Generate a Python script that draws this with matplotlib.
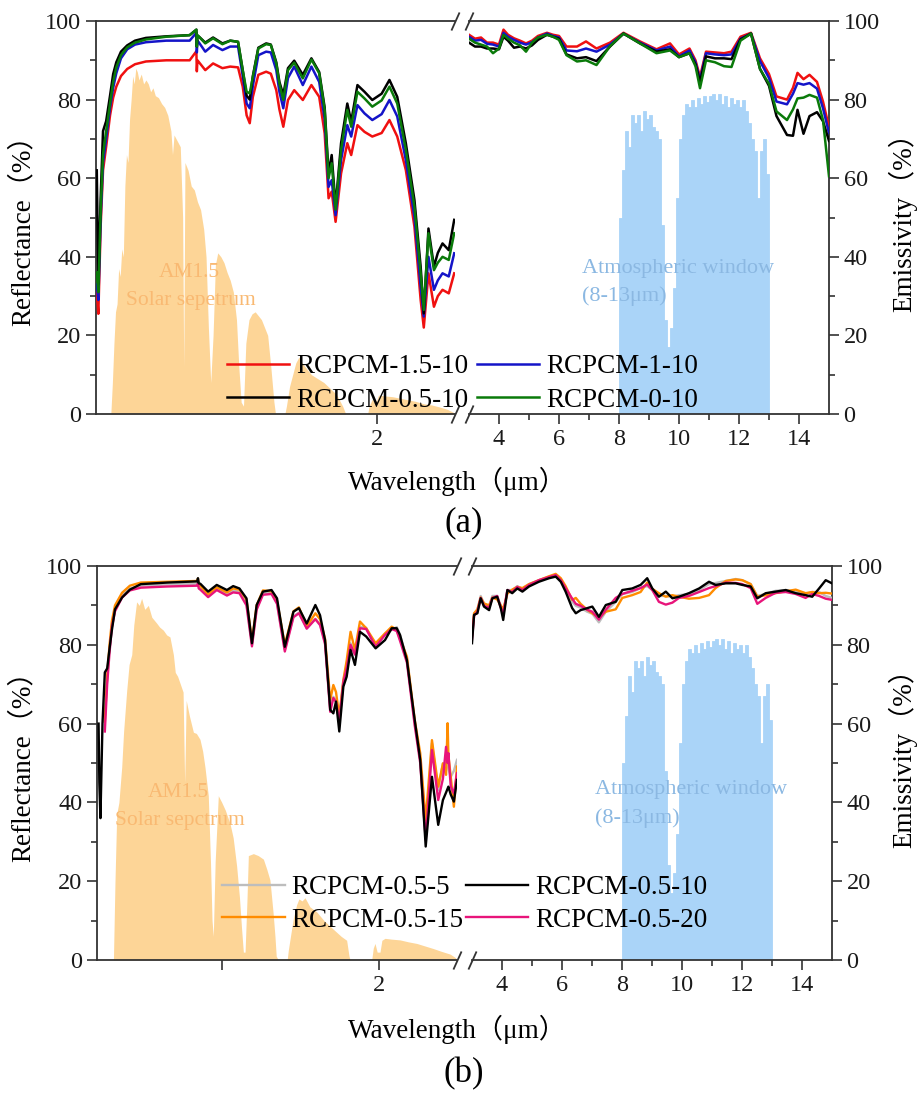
import numpy as np
import matplotlib
matplotlib.use("Agg")
import matplotlib.pyplot as plt
from matplotlib.ticker import MultipleLocator, FixedLocator
from matplotlib.lines import Line2D

plt.rcParams['font.family'] = ['Liberation Serif', 'Noto Sans CJK SC']
plt.rcParams['axes.unicode_minus'] = False

# ---------------- panel (a): 0.2-2.5 um segment ----------------
wl_a_sw = [0.205, 0.215, 0.23, 0.245, 0.265, 0.29, 0.31, 0.33, 0.36, 0.40,
           0.45, 0.52, 0.65, 0.80, 0.843, 0.846, 0.85, 0.86, 0.90, 0.95,
           1.01, 1.06, 1.11, 1.14, 1.165, 1.185, 1.205, 1.24, 1.29, 1.32,
           1.355, 1.375, 1.40, 1.43, 1.47, 1.525, 1.58, 1.63, 1.665, 1.69,
           1.71, 1.735, 1.77, 1.81, 1.835, 1.875, 1.92, 1.97, 2.03, 2.08,
           2.13, 2.185, 2.24, 2.28, 2.30, 2.33, 2.365, 2.39, 2.42, 2.46, 2.495]
a_sw_15 = [31, 25.5, 48, 62, 68, 76, 80.5, 83.3, 86, 87.8,
           89, 89.7, 90, 90, 92.3, 87.2, 90, 89.5, 87.5, 89.2,
           88, 88.4, 88.2, 83.3, 76, 74, 80.7, 86.3, 87.1, 86.6,
           82.4, 77.5, 73.1, 79.9, 82.4, 79.9, 83.7, 80.7, 71.4, 54.9,
           56.6, 48.9, 61.2, 68.9, 65.9, 73.5, 71.8, 70.6, 71.5, 74.8,
           70.6, 62.1, 47.7, 29, 22, 35.8, 27.3, 30, 31.6, 30.7, 35.8]
a_sw_1 = [33, 29, 50, 64, 70, 78, 83, 86.7, 90.5, 92.8,
          94, 94.6, 95, 95, 97, 92, 95, 94.5, 92.2, 93.9,
          92.6, 93.5, 93.5, 86, 79, 77.8, 83.5, 91.3, 92.2, 92,
          87.5, 82, 77.8, 85.5, 88.4, 83.7, 88.4, 84.5, 75, 57.8,
          59.5, 50.6, 64.6, 73.5, 70.6, 78.6, 76.5, 74.8, 76.3, 79.9,
          75.7, 64.6, 50.2, 32.4, 24.8, 40, 31.6, 34, 35.8, 35, 40.9]
a_sw_05 = [62, 33, 55, 72, 74.5, 81, 86.5, 89.5, 92.2, 93.8,
           95, 95.7, 96.1, 96.4, 97.8, 93.5, 96.3, 96, 94.5, 95.8,
           94.3, 95, 94.7, 87.5, 81, 80, 86, 93.2, 94.3, 94,
           89.5, 84.5, 81.2, 88, 89.9, 86.3, 90.5, 87, 78, 61.2,
           65.9, 52.8, 68.9, 79, 74.4, 83.7, 82, 79.9, 81.5, 85,
           80.7, 68.9, 54.5, 37.5, 25.6, 47.2, 37.5, 41, 43.4, 41.7, 49.4]
a_sw_0 = [36, 31, 52, 66, 72, 79, 84.5, 88.2, 91.3, 93.3,
          94.5, 95.3, 96, 96.4, 97.8, 93.5, 96.4, 96, 94.3, 95.6,
          94.1, 95, 94.7, 87.5, 82, 81.6, 85.8, 93, 94.1, 93.9,
          89.2, 84, 79.9, 87.5, 89.4, 85.4, 90.2, 86.7, 77.4, 60,
          63.8, 52, 67.2, 77.4, 73.1, 82, 80.3, 78.2, 79.8, 83.3,
          79, 67.2, 52.8, 35.8, 26.5, 46, 36.6, 38.5, 40, 39.2, 46]

# ---------------- panel (a): 3-15 um segment ----------------
wl_a_lw = [3.0, 3.2, 3.4, 3.6, 3.8, 4.0, 4.15, 4.3, 4.5, 4.7,
           4.9, 5.1, 5.3, 5.6, 5.8, 6.0, 6.25, 6.6, 6.9, 7.25,
           7.7, 8.15, 8.7, 9.25, 9.7, 10.0, 10.35, 10.55, 10.7, 10.9,
           11.2, 11.5, 11.75, 12.05, 12.4, 12.7, 13.0, 13.25, 13.6, 13.8,
           13.95, 14.15, 14.35, 14.6, 14.8, 15.0]
a_lw_15 = [96.5, 95.5, 95.8, 94.5, 94.5, 94.0, 97.8, 96.5, 95.6, 95.0,
           94.3, 95.0, 96.2, 97.0, 96.5, 96.2, 93.5, 93.5, 94.8, 93.0,
           94.5, 97.0, 94.8, 92.8, 94.3, 91.5, 93.0, 90.0, 85.8, 92.2,
           92.0, 91.8, 92.2, 96.0, 97.0, 90.5, 86.5, 80.8, 80.0, 83.0,
           86.8, 85.2, 86.3, 84.5, 79.5, 73.0]
a_lw_1 = [96.0, 95.0, 95.2, 94.2, 94.0, 93.5, 97.0, 96.0, 95.2, 94.5,
          94.0, 94.6, 95.8, 96.8, 96.2, 95.8, 92.5, 92.3, 93.0, 92.2,
          94.0, 96.8, 94.5, 92.5, 93.5, 91.0, 92.5, 89.5, 85.0, 91.8,
          91.5, 91.3, 91.5, 95.5, 96.8, 89.8, 85.5, 79.5, 78.8, 81.5,
          84.2, 83.8, 84.2, 82.8, 77.8, 71.5]
a_lw_05 = [94.5, 93.5, 93.5, 93.0, 93.0, 92.8, 96.0, 95.0, 93.2, 93.5,
           93.0, 93.8, 95.2, 96.5, 96.0, 95.5, 91.5, 90.5, 90.8, 89.8,
           93.5, 96.8, 94.3, 92.2, 92.8, 90.8, 91.8, 89.0, 84.5, 91.0,
           90.5, 90.5, 90.3, 95.3, 96.8, 87.8, 83.5, 75.8, 71.0, 70.8,
           77.4, 71.3, 75.8, 76.8, 74.5, 69.5]
a_lw_0 = [95.5, 94.5, 94.0, 93.5, 91.8, 93.0, 96.5, 95.5, 94.5, 93.8,
          92.2, 94.5, 95.8, 96.5, 96.0, 95.2, 91.3, 89.7, 90.0, 88.8,
          93.6, 96.8, 94.3, 91.8, 92.5, 90.8, 91.8, 88.5, 82.9, 90.0,
          89.5, 88.5, 88.3, 95.0, 96.8, 87.8, 84.0, 77.0, 74.8, 77.5,
          80.3, 80.5, 81.2, 80.5, 74.8, 60.5]

# ---------------- panel (b): 0.2-2.5 um segment ----------------
nan = float('nan')
wl_b_sw = [0.21, 0.215, 0.222, 0.235, 0.25, 0.265, 0.28, 0.295, 0.315, 0.36,
           0.41, 0.48, 0.65, 0.84, 0.845, 0.85, 0.86, 0.91, 0.965, 1.03,
           1.07, 1.11, 1.155, 1.19, 1.22, 1.26, 1.315, 1.35, 1.40, 1.455,
           1.49, 1.54, 1.595, 1.625, 1.657, 1.69, 1.71, 1.727, 1.748, 1.774,
           1.795, 1.82, 1.848, 1.88, 1.92, 1.98, 2.04, 2.083, 2.115, 2.136,
           2.18, 2.23, 2.265, 2.30, 2.34, 2.38, 2.41, 2.43, 2.44, 2.445,
           2.46, 2.48, 2.50]
b_sw_5 = [nan, nan, nan, nan, 62, 72, 79, 85, 89, 92.5,
          94.3, 95, 95.3, 95.5, 96.2, 94.8, 94.5, 92.5, 94.2, 92.8,
          93.7, 93.5, 90.5, 80, 89.2, 93.1, 93.2, 90.7, 78.8, 87.2,
          88.2, 84.2, 86.6, 85.2, 80.6, 64, 66.8, 66, 60.9, 71,
          74.5, 80.4, 78, 84.6, 84.3, 79.5, 82.8, 83.8, 84.5, 82.5,
          76.5, 60, 51, 32.1, 55, 43.1, 49.9, 49.9, 49.9, 48.5,
          46.5, 48, 50.8]
b_sw_10 = [60, 45, 36, 60, 73, 74, 79, 83.7, 89, 92,
           94, 95.4, 95.8, 96.1, 96.9, 95.6, 95.5, 93.5, 95.2, 93.9,
           94.9, 94.3, 91.8, 80.4, 90.1, 93.5, 93.9, 91.8, 79.5, 88.4,
           89.3, 85.4, 90.1, 87.5, 81.2, 63.5, 62.6, 65.6, 58, 69.4,
           71.9, 78.7, 74.9, 83.3, 82.1, 79.1, 81.2, 84.2, 84.2, 82.5,
           76.1, 60.9, 50.8, 28.8, 46.5, 34.3, 40.6, 42.5, 43.5, 44,
           42, 40.2, 45.7]
b_sw_15 = [nan, nan, nan, nan, 60.5, 72, 80, 86, 90, 93.2,
           95, 95.8, 96, 96.2, 96.8, 95.2, 95, 92.8, 94.6, 93.3,
           94.3, 94, 91.5, 81, 90, 93.8, 93.6, 91.2, 80, 88.5,
           89.5, 84.6, 88, 86.5, 81.5, 66, 69.8, 68, 61.8, 71.1,
           76, 83.3, 78.7, 85.9, 84.2, 80.4, 82.9, 84.6, 83.8, 81.5,
           77, 60.9, 52.5, 35.5, 55.8, 44, 49.9, 47, 60.1, 52,
           46.5, 38.9, 49.1]
b_sw_20 = [nan, nan, nan, nan, 58, 70, 78, 84.5, 88.5, 92,
           93.8, 94.5, 94.8, 95, 95.6, 94.3, 94, 92.1, 93.9, 92.5,
           93.3, 93.1, 90, 79.6, 88.9, 92.7, 92.9, 90.4, 78.3, 87,
           88, 84.1, 86.5, 85, 80.2, 63, 66.5, 65.5, 60.5, 70.5,
           74, 80, 77.5, 84.2, 84, 79.5, 82.5, 84, 83.5, 81,
           75.5, 59.5, 50, 30.5, 53.3, 40.6, 46, 54.1, 50, 52.5,
           44, 42.3, 47.4]

# ---------------- panel (b): 3-15 um segment ----------------
wl_b_lw = [3.0, 3.07, 3.18, 3.29, 3.4, 3.57, 3.68, 3.84, 3.96, 4.04,
           4.18, 4.34, 4.51, 4.68, 4.9, 5.23, 5.57, 5.79, 5.96, 6.12,
           6.34, 6.46, 6.62, 6.84, 7.01, 7.23, 7.46, 7.79, 8.01, 8.34,
           8.62, 8.84, 9.01, 9.23, 9.46, 9.68, 9.9, 10.23, 10.57, 10.9,
           11.12, 11.46, 11.79, 12.01, 12.29, 12.51, 12.79, 13.12, 13.46, 13.79,
           14.12, 14.34, 14.57, 14.79, 15.0]
b_lw_5 = [82, 87.9, 88.9, 92.4, 90.4, 89.9, 92.4, 92.4, 89.9, 87.4,
          93.9, 93.9, 94.9, 94.2, 95.4, 96.4, 97.3, 97.6, 96.6, 94.4,
          90.9, 89.9, 89.4, 88.4, 87.9, 85.7, 88.4, 90.9, 92.9, 93.4,
          94.4, 94.9, 93.9, 92.4, 92.4, 92.2, 92.6, 92.9, 93.9, 95.4,
          95.7, 96.2, 96.7, 96.4, 95.4, 92.4, 92.9, 93.7, 93.9, 93.4,
          92.9, 93.4, 93.4, 92.4, 91.9]
b_lw_10 = [80.4, 87.6, 88, 91.8, 89.7, 88.8, 91.8, 92.2, 89.3, 86.3,
           93.9, 93.1, 94.3, 93.5, 94.8, 96.0, 96.9, 97.3, 96.0, 93.5,
           89.3, 88.0, 88.8, 89.3, 89.7, 87.1, 90.1, 90.9, 93.9, 94.3,
           95.2, 96.9, 94.3, 92.2, 93.5, 91.8, 92.2, 93.1, 94.3, 96.0,
           95.2, 95.6, 95.6, 95.2, 94.8, 91.8, 93.1, 93.5, 93.9, 93.1,
           92.6, 92.2, 94.3, 96.4, 95.6]
b_lw_15 = [82.5, 88, 89, 92, 90.5, 90, 92, 91.5, 90, 89,
           93, 94, 94.7, 94.4, 95.4, 96.4, 97.4, 98, 96.9, 94.9,
           91.4, 91.9, 90.4, 88.9, 88, 86.9, 88.4, 89, 91.9, 92.6,
           93.4, 95.8, 94.2, 93.1, 92.2, 92.6, 92.2, 91.7, 91.9, 92.6,
           94.4, 96.2, 96.6, 96.4, 95.4, 92.2, 92.6, 93.1, 93.6, 94,
           93.1, 93.4, 93.1, 93.2, 93]
b_lw_20 = [81.5, 87.4, 88.4, 91.9, 89.9, 89.4, 91.9, 92.4, 89.4, 87.9,
           93.9, 93.4, 94.7, 93.9, 95.2, 96.4, 97.2, 97.7, 96.4, 94.4,
           91.7, 90.4, 89.9, 88.9, 88.4, 86.4, 88.9, 91.9, 92.9, 93.7,
           94.4, 95.3, 93.9, 90.9, 90.2, 90.7, 91.9, 92.4, 93.4, 94.4,
           94.9, 95.8, 95.7, 95.4, 94.4, 90.4, 91.9, 93.2, 93.4, 92.9,
           91.9, 92.9, 92.4, 91.7, 91.4]

# ---------------- reference spectra (normalised) ----------------
sol_a_wl = [0.295, 0.305, 0.315, 0.325, 0.335, 0.345, 0.355, 0.365, 0.375, 0.385,
            0.395, 0.405, 0.415, 0.425, 0.435, 0.445, 0.455, 0.465, 0.475, 0.49,
            0.505, 0.52, 0.535, 0.55, 0.565, 0.58, 0.60, 0.62, 0.64, 0.66,
            0.68, 0.69, 0.70, 0.72, 0.74, 0.755, 0.762, 0.77, 0.79, 0.81,
            0.83, 0.85, 0.87, 0.89, 0.905, 0.92, 0.935, 0.95, 0.965, 0.98,
            1.00, 1.02, 1.04, 1.06, 1.08, 1.10, 1.115, 1.13, 1.145, 1.16,
            1.18, 1.20, 1.22, 1.24, 1.26, 1.28, 1.30, 1.32, 1.34, 1.35,
            1.41, 1.42, 1.44, 1.46, 1.48, 1.50, 1.52, 1.55, 1.58, 1.62,
            1.66, 1.70, 1.74, 1.78, 1.80, 1.94, 1.95, 1.97, 1.99, 2.01,
            2.05, 2.10, 2.15, 2.20, 2.25, 2.30, 2.35, 2.40, 2.45, 2.49, 2.50]
sol_a_val = [0, 8, 18, 26, 28, 37, 35, 42, 40, 58,
             66, 64, 75, 80, 86, 84, 88, 87, 85, 86.5,
             84, 85, 84, 82, 83, 81, 80.5, 79, 78, 76,
             72, 66, 71, 69.5, 68, 50, 12, 64, 62, 58,
             57, 54, 52, 47, 40, 22, 8, 20, 38, 41,
             40, 38.5, 36, 34, 31, 24, 12, 3, 2, 18,
             24, 25.5, 26, 25, 24, 22, 20, 12, 3, 0,
             0, 2, 7, 10, 13, 14.5, 13, 11.5, 10, 9,
             8, 6.5, 5, 2, 0, 0, 2, 3.8, 2.5, 4.8,
             4.6, 4.4, 4.0, 3.6, 3.2, 2.6, 2.3, 1.8, 1.2, 0.4, 0]

sol_b_wl = [0.305, 0.315, 0.326, 0.34, 0.358, 0.37, 0.39, 0.405, 0.422, 0.435,
            0.453, 0.47, 0.485, 0.505, 0.528, 0.55, 0.581, 0.60, 0.624, 0.645,
            0.666, 0.688, 0.70, 0.715, 0.73, 0.75, 0.76, 0.77, 0.79, 0.816,
            0.835, 0.858, 0.875, 0.89, 0.911, 0.925, 0.935, 0.943, 0.955, 0.975,
            0.997, 1.02, 1.05, 1.07, 1.092, 1.11, 1.124, 1.135, 1.146, 1.158,
            1.167, 1.199, 1.23, 1.263, 1.285, 1.305, 1.325, 1.337, 1.345, 1.358,
            1.415, 1.422, 1.44, 1.454, 1.475, 1.49, 1.51, 1.529, 1.56, 1.604,
            1.65, 1.71, 1.76, 1.795, 1.81, 1.817, 1.955, 1.965, 1.976, 1.99,
            2.008, 2.02, 2.04, 2.08, 2.136, 2.19, 2.243, 2.30, 2.349, 2.40,
            2.456, 2.49, 2.50]
sol_b_val = [0, 20, 37, 40, 49, 58, 68.5, 75, 77.5, 85,
             90.9, 90, 91.8, 89, 90, 87, 85.5, 84.5, 83.7, 82.5,
             82, 77.5, 73, 72, 70.3, 68, 45, 65.9, 62, 57.8,
             57.5, 56, 53, 48.9, 41.7, 25, 10, 6, 25, 41.7,
             40, 38, 34.6, 31, 23.9, 16, 7.8, 2, 2, 15,
             26.5, 27, 26.5, 25.6, 23, 20.3, 12, 6, 1, 0,
             0, 2.4, 7, 10.5, 14, 15.5, 15, 15.8, 13.5, 12.2,
             10, 7.8, 6, 5, 1, 0, 0, 3, 4.2, 2,
             2, 5, 5.5, 5.3, 5.1, 4.6, 4.2, 3.5, 2.9, 2.2,
             1.5, 0.6, 0]

win_wl = [8.0, 8.1, 8.2, 8.3, 8.4, 8.5, 8.6, 8.7, 8.8, 8.9,
          9.0, 9.1, 9.2, 9.3, 9.4, 9.5, 9.6, 9.7, 9.8, 9.9,
          10.0, 10.1, 10.2, 10.3, 10.4, 10.5, 10.6, 10.7, 10.8, 10.9,
          11.0, 11.1, 11.2, 11.3, 11.4, 11.5, 11.6, 11.7, 11.8, 11.9,
          12.0, 12.1, 12.2, 12.3, 12.4, 12.5, 12.6, 12.7, 12.8, 12.9]
win_val = [50, 62, 72, 68, 76, 74, 76, 72, 77, 75,
           76, 73, 72, 70, 48, 24, 17, 22, 32, 55,
           70, 76, 79, 78, 80, 78, 80.5, 79, 81, 79.5,
           81, 81.5, 80, 81.5, 79, 81, 78, 80.5, 79, 80,
           78, 80, 77, 74, 70, 67, 55, 67, 70, 61]

# ---------------- styling ----------------
SOLAR = '#FDD597'
WINDOW = '#AAD4F8'
SOLAR_TXT = '#F9B972'
WINDOW_TXT = '#8BB8E2'
AXC = '#333333'

colors_a = {'1.5': '#F01010', '1': '#1414C8', '0.5': '#000000', '0': '#0A7A0A'}
colors_b = {'5': '#BDBDBD', '10': '#000000', '15': '#FF8C00', '20': '#E8147A'}

fig = plt.figure(figsize=(9.19, 11.02), dpi=100)
W, H = 919.0, 1102.0


def frac(x0, y_top, x1, y_bot):
    return [x0 / W, 1 - y_bot / H, (x1 - x0) / W, (y_bot - y_top) / H]


def style_pair(axL, axR, tick_one):
    for ax in (axL, axR):
        ax.set_ylim(0, 100)
        ax.yaxis.set_major_locator(MultipleLocator(20))
        ax.yaxis.set_minor_locator(MultipleLocator(10))
        for s in ax.spines.values():
            s.set_color(AXC)
            s.set_linewidth(1.3)
        ax.tick_params(which='both', direction='out', colors=AXC, width=1.2,
                       labelsize=17.5, labelcolor='#1a1a1a')
        ax.tick_params(which='major', length=7)
        ax.tick_params(which='minor', length=4)
        ax.patch.set_alpha(0)
    axL.set_xlim(0.2, 2.5)
    axR.set_xlim(3, 15)
    axL.spines['right'].set_visible(False)
    axR.spines['left'].set_visible(False)
    axL.yaxis.tick_left()
    axR.yaxis.tick_right()
    if tick_one:
        axL.set_xticks([1, 2])
        axL.set_xticklabels(['', '2'])
    else:
        axL.set_xticks([2])
        axL.set_xticklabels(['2'])
    axL.xaxis.set_minor_locator(FixedLocator([]))
    axR.set_xticks([4, 6, 8, 10, 12, 14])
    axR.xaxis.set_minor_locator(FixedLocator([5, 7, 9, 11, 13]))
    kw = dict(marker=[(-0.45, -1), (0.45, 1)], markersize=13, linestyle='none',
              color=AXC, mec=AXC, mew=1.3, clip_on=False, zorder=10)
    axL.plot([1, 1], [0, 1], transform=axL.transAxes, **kw)
    axR.plot([0, 0], [0, 1], transform=axR.transAxes, **kw)


def panel(x0, y_top, y_bot, xl1, xr0, xr1, sol_wl, sol_val, tick_one):
    axL = fig.add_axes(frac(x0, y_top, xl1, y_bot))
    axR = fig.add_axes(frac(xr0, y_top, xr1, y_bot))
    axL.fill_between(sol_wl, 0, sol_val, color=SOLAR, lw=0, zorder=1)
    axR.bar(win_wl, win_val, width=0.1, align='edge', color=WINDOW,
            edgecolor=WINDOW, lw=0.6, zorder=1)
    style_pair(axL, axR, tick_one)
    return axL, axR


LEG = dict(ncol=2, loc='center', frameon=False, fontsize=19.5,
           handlelength=2.3, handletextpad=0.26, borderpad=0, borderaxespad=0)

# ================= panel (a) =================
axL, axR = panel(96, 21, 414, 455, 469, 829, sol_a_wl, sol_a_val, False)
series_a = [('RCPCM-1.5-10', a_sw_15, a_lw_15, colors_a['1.5']),
            ('RCPCM-1-10', a_sw_1, a_lw_1, colors_a['1']),
            ('RCPCM-0.5-10', a_sw_05, a_lw_05, colors_a['0.5']),
            ('RCPCM-0-10', a_sw_0, a_lw_0, colors_a['0'])]
handles_a = {}
for name, sw, lw_, c in series_a:
    axL.plot(wl_a_sw, sw, color=c, lw=1.8, zorder=3, solid_joinstyle='round')
    axR.plot(wl_a_lw, lw_, color=c, lw=1.8, zorder=3, solid_joinstyle='round')
    handles_a[name] = Line2D([], [], color=c, lw=1.8)

axL.text(0.80, 35.9, 'AM1.5', color=SOLAR_TXT, fontsize=15.5, ha='center', va='center', zorder=4)
axL.text(0.81, 28.8, 'Solar sepetrum', color=SOLAR_TXT, fontsize=15.5, ha='center', va='center', zorder=4)
axR.text(6.76, 37.1, 'Atmospheric window', color=WINDOW_TXT, fontsize=16, ha='left', va='center', zorder=4)
axR.text(6.76, 30.1, '(8-13μm)', color=WINDOW_TXT, fontsize=16, ha='left', va='center', zorder=4)

order_a = ['RCPCM-1.5-10', 'RCPCM-0.5-10', 'RCPCM-1-10', 'RCPCM-0-10']
fig.legend([handles_a[k] for k in order_a], order_a,
           bbox_to_anchor=(462.5 / W, 1 - 383.5 / H), columnspacing=0.3,
           labelspacing=0.32, **LEG)

fig.text(23 / W, 1 - 224 / H, 'Reflectance（%）', rotation=90, fontsize=19.5,
         ha='center', va='center')
fig.text(903 / W, 1 - 216 / H, 'Emissivity（%）', rotation=90, fontsize=19.5,
         ha='center', va='center')
fig.text(457 / W, 1 - 481 / H, 'Wavelength（μm）', fontsize=19.5, ha='center', va='center')
fig.text(464 / W, 1 - 523 / H, '(a)', fontsize=25, ha='center', va='center')

# ================= panel (b) =================
bxL, bxR = panel(97, 566, 960, 457, 472, 832, sol_b_wl, sol_b_val, True)
series_b = [('RCPCM-0.5-5', b_sw_5, b_lw_5, colors_b['5']),
            ('RCPCM-0.5-15', b_sw_15, b_lw_15, colors_b['15']),
            ('RCPCM-0.5-20', b_sw_20, b_lw_20, colors_b['20']),
            ('RCPCM-0.5-10', b_sw_10, b_lw_10, colors_b['10'])]
handles_b = {}
for name, sw, lw_, c in series_b:
    bxL.plot(wl_b_sw, sw, color=c, lw=1.7, zorder=3, solid_joinstyle='round')
    bxR.plot(wl_b_lw, lw_, color=c, lw=1.7, zorder=3, solid_joinstyle='round')
    handles_b[name] = Line2D([], [], color=c, lw=1.7)

bxL.text(0.72, 42.6, 'AM1.5', color=SOLAR_TXT, fontsize=15.5, ha='center', va='center', zorder=4)
bxL.text(0.73, 35.5, 'Solar sepctrum', color=SOLAR_TXT, fontsize=15.5, ha='center', va='center', zorder=4)
bxR.text(7.1, 43.3, 'Atmospheric window', color=WINDOW_TXT, fontsize=16, ha='left', va='center', zorder=4)
bxR.text(7.1, 35.9, '(8-13μm)', color=WINDOW_TXT, fontsize=16, ha='left', va='center', zorder=4)

order_b = ['RCPCM-0.5-5', 'RCPCM-0.5-15', 'RCPCM-0.5-10', 'RCPCM-0.5-20']
fig.legend([handles_b[k] for k in order_b], order_b,
           bbox_to_anchor=(465 / W, 1 - 904 / H), columnspacing=0.08,
           labelspacing=0.28, **LEG)

fig.text(23 / W, 1 - 760 / H, 'Reflectance（%）', rotation=90, fontsize=19.5,
         ha='center', va='center')
fig.text(903 / W, 1 - 752 / H, 'Emissivity（%）', rotation=90, fontsize=19.5,
         ha='center', va='center')
fig.text(457 / W, 1 - 1029 / H, 'Wavelength（μm）', fontsize=19.5, ha='center', va='center')
fig.text(464 / W, 1 - 1074 / H, '(b)', fontsize=25, ha='center', va='center')

fig.savefig('out.png', dpi=100, facecolor='white')
